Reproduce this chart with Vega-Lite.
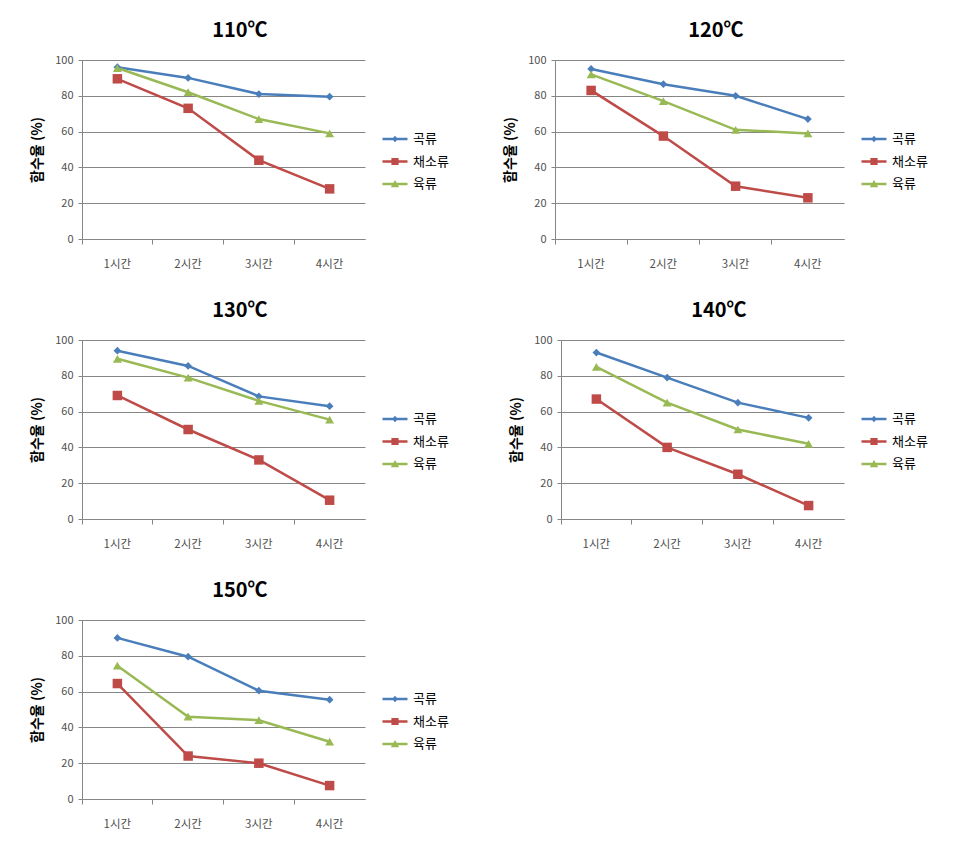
{
  "$schema": "https://vega.github.io/schema/vega-lite/v6.json",
  "padding": {"left": 30, "top": 21, "right": 5, "bottom": 5},
  "background": "white",
  "data": {"values": [
    {"temp": "110℃", "time": "1시간", "series": "곡류", "value": 96},
    {"temp": "110℃", "time": "2시간", "series": "곡류", "value": 90},
    {"temp": "110℃", "time": "3시간", "series": "곡류", "value": 81},
    {"temp": "110℃", "time": "4시간", "series": "곡류", "value": 79.5},
    {"temp": "110℃", "time": "1시간", "series": "채소류", "value": 89.5},
    {"temp": "110℃", "time": "2시간", "series": "채소류", "value": 73},
    {"temp": "110℃", "time": "3시간", "series": "채소류", "value": 44},
    {"temp": "110℃", "time": "4시간", "series": "채소류", "value": 28},
    {"temp": "110℃", "time": "1시간", "series": "육류", "value": 95.5},
    {"temp": "110℃", "time": "2시간", "series": "육류", "value": 82},
    {"temp": "110℃", "time": "3시간", "series": "육류", "value": 67},
    {"temp": "110℃", "time": "4시간", "series": "육류", "value": 59},
    {"temp": "120℃", "time": "1시간", "series": "곡류", "value": 95},
    {"temp": "120℃", "time": "2시간", "series": "곡류", "value": 86.5},
    {"temp": "120℃", "time": "3시간", "series": "곡류", "value": 80},
    {"temp": "120℃", "time": "4시간", "series": "곡류", "value": 67},
    {"temp": "120℃", "time": "1시간", "series": "채소류", "value": 83},
    {"temp": "120℃", "time": "2시간", "series": "채소류", "value": 57.5},
    {"temp": "120℃", "time": "3시간", "series": "채소류", "value": 29.5},
    {"temp": "120℃", "time": "4시간", "series": "채소류", "value": 23},
    {"temp": "120℃", "time": "1시간", "series": "육류", "value": 92},
    {"temp": "120℃", "time": "2시간", "series": "육류", "value": 77},
    {"temp": "120℃", "time": "3시간", "series": "육류", "value": 61},
    {"temp": "120℃", "time": "4시간", "series": "육류", "value": 59},
    {"temp": "130℃", "time": "1시간", "series": "곡류", "value": 94},
    {"temp": "130℃", "time": "2시간", "series": "곡류", "value": 85.5},
    {"temp": "130℃", "time": "3시간", "series": "곡류", "value": 68.5},
    {"temp": "130℃", "time": "4시간", "series": "곡류", "value": 63},
    {"temp": "130℃", "time": "1시간", "series": "채소류", "value": 69},
    {"temp": "130℃", "time": "2시간", "series": "채소류", "value": 50},
    {"temp": "130℃", "time": "3시간", "series": "채소류", "value": 33},
    {"temp": "130℃", "time": "4시간", "series": "채소류", "value": 10.5},
    {"temp": "130℃", "time": "1시간", "series": "육류", "value": 89.5},
    {"temp": "130℃", "time": "2시간", "series": "육류", "value": 79},
    {"temp": "130℃", "time": "3시간", "series": "육류", "value": 66},
    {"temp": "130℃", "time": "4시간", "series": "육류", "value": 55.5},
    {"temp": "140℃", "time": "1시간", "series": "곡류", "value": 93},
    {"temp": "140℃", "time": "2시간", "series": "곡류", "value": 79},
    {"temp": "140℃", "time": "3시간", "series": "곡류", "value": 65},
    {"temp": "140℃", "time": "4시간", "series": "곡류", "value": 56.5},
    {"temp": "140℃", "time": "1시간", "series": "채소류", "value": 67},
    {"temp": "140℃", "time": "2시간", "series": "채소류", "value": 40},
    {"temp": "140℃", "time": "3시간", "series": "채소류", "value": 25},
    {"temp": "140℃", "time": "4시간", "series": "채소류", "value": 7.5},
    {"temp": "140℃", "time": "1시간", "series": "육류", "value": 85},
    {"temp": "140℃", "time": "2시간", "series": "육류", "value": 65},
    {"temp": "140℃", "time": "3시간", "series": "육류", "value": 50},
    {"temp": "140℃", "time": "4시간", "series": "육류", "value": 42},
    {"temp": "150℃", "time": "1시간", "series": "곡류", "value": 90},
    {"temp": "150℃", "time": "2시간", "series": "곡류", "value": 79.5},
    {"temp": "150℃", "time": "3시간", "series": "곡류", "value": 60.5},
    {"temp": "150℃", "time": "4시간", "series": "곡류", "value": 55.5},
    {"temp": "150℃", "time": "1시간", "series": "채소류", "value": 64.5},
    {"temp": "150℃", "time": "2시간", "series": "채소류", "value": 24},
    {"temp": "150℃", "time": "3시간", "series": "채소류", "value": 20},
    {"temp": "150℃", "time": "4시간", "series": "채소류", "value": 7.5},
    {"temp": "150℃", "time": "1시간", "series": "육류", "value": 74.5},
    {"temp": "150℃", "time": "2시간", "series": "육류", "value": 46},
    {"temp": "150℃", "time": "3시간", "series": "육류", "value": 44},
    {"temp": "150℃", "time": "4시간", "series": "육류", "value": 32}
  ]},
  "spacing": 31,
  "resolve": {"scale": {"color": "independent"}, "legend": {"color": "independent"}},
  "vconcat": [
    {
      "spacing": 54,
      "resolve": {"scale": {"color": "independent"}, "legend": {"color": "independent"}},
      "hconcat": [
        {
          "title": {"text": "110℃"},
          "width": 283, "height": 179,
          "transform": [{"filter": "datum.temp === '110℃'"}],
          "encoding": {
            "y": {"field": "value", "type": "quantitative", "scale": {"domain": [0, 100]}, "axis": {"values": [0, 20, 40, 60, 80, 100], "title": "함수율 (%)"}},
            "color": {"field": "series", "type": "nominal", "scale": {"domain": ["곡류", "채소류", "육류"], "range": ["#4a7ebb", "#be4b48", "#98b954"]},
              "legend": {"title": null, "orient": "none", "legendX": 303, "legendY": 69, "symbolSize": 400, "symbolStrokeWidth": 0, "labelOffset": 8, "rowPadding": 5.5, "padding": 0,
                "encode": {"symbols": {"update": {
                  "shape": {"signal": "datum.value === '곡류' ? 'M-1.25,-0.12H1.25V0.12H-1.25Z M0,-0.32L0.3,0L0,0.32L-0.3,0Z' : datum.value === '채소류' ? 'M-1.25,-0.12H1.25V0.12H-1.25Z M-0.36,-0.36H0.36V0.36H-0.36Z' : 'M-1.25,-0.12H1.25V0.12H-1.25Z M0,-0.4L0.42,0.32H-0.42Z'"},
                  "size": {"value": 400}}}}}}
          },
          "layer": [
            {"mark": {"type": "line", "strokeWidth": 2.5},
             "encoding": {"x": {"field": "time", "type": "nominal", "sort": null, "scale": {"type": "band", "paddingInner": 0, "paddingOuter": 0}, "axis": {"title": null, "ticks": false, "labelAngle": 0, "orient": "bottom"}}}},
            {"mark": {"type": "point", "filled": true, "opacity": 1},
             "encoding": {"x": {"field": "time", "type": "nominal", "sort": null, "scale": {"type": "band", "paddingInner": 0, "paddingOuter": 0}, "axis": {"title": null, "labels": false, "domain": false, "ticks": true, "bandPosition": 0, "tickSize": 5, "orient": "bottom"}},
               "shape": {"condition": [{"test": "datum.series === '채소류'", "value": "square"}, {"test": "datum.series === '육류'", "value": "triangle-up"}], "value": "diamond"},
               "size": {"condition": [{"test": "datum.series === '채소류'", "value": 90}, {"test": "datum.series === '육류'", "value": 80}], "value": 60}}}
          ],
          "resolve": {"axis": {"x": "independent"}}
        },
        {
          "title": {"text": "120℃"},
          "width": 289, "height": 179,
          "transform": [{"filter": "datum.temp === '120℃'"}],
          "encoding": {
            "y": {"field": "value", "type": "quantitative", "scale": {"domain": [0, 100]}, "axis": {"values": [0, 20, 40, 60, 80, 100], "title": "함수율 (%)"}},
            "color": {"field": "series", "type": "nominal", "scale": {"domain": ["곡류", "채소류", "육류"], "range": ["#4a7ebb", "#be4b48", "#98b954"]},
              "legend": {"title": null, "orient": "none", "legendX": 309, "legendY": 69, "symbolSize": 400, "symbolStrokeWidth": 0, "labelOffset": 8, "rowPadding": 5.5, "padding": 0,
                "encode": {"symbols": {"update": {
                  "shape": {"signal": "datum.value === '곡류' ? 'M-1.25,-0.12H1.25V0.12H-1.25Z M0,-0.32L0.3,0L0,0.32L-0.3,0Z' : datum.value === '채소류' ? 'M-1.25,-0.12H1.25V0.12H-1.25Z M-0.36,-0.36H0.36V0.36H-0.36Z' : 'M-1.25,-0.12H1.25V0.12H-1.25Z M0,-0.4L0.42,0.32H-0.42Z'"},
                  "size": {"value": 400}}}}}}
          },
          "layer": [
            {"mark": {"type": "line", "strokeWidth": 2.5},
             "encoding": {"x": {"field": "time", "type": "nominal", "sort": null, "scale": {"type": "band", "paddingInner": 0, "paddingOuter": 0}, "axis": {"title": null, "ticks": false, "labelAngle": 0, "orient": "bottom"}}}},
            {"mark": {"type": "point", "filled": true, "opacity": 1},
             "encoding": {"x": {"field": "time", "type": "nominal", "sort": null, "scale": {"type": "band", "paddingInner": 0, "paddingOuter": 0}, "axis": {"title": null, "labels": false, "domain": false, "ticks": true, "bandPosition": 0, "tickSize": 5, "orient": "bottom"}},
               "shape": {"condition": [{"test": "datum.series === '채소류'", "value": "square"}, {"test": "datum.series === '육류'", "value": "triangle-up"}], "value": "diamond"},
               "size": {"condition": [{"test": "datum.series === '채소류'", "value": 90}, {"test": "datum.series === '육류'", "value": 80}], "value": 60}}}
          ],
          "resolve": {"axis": {"x": "independent"}}
        }
      ]
    },
    {
      "spacing": 60,
      "resolve": {"scale": {"color": "independent"}, "legend": {"color": "independent"}},
      "hconcat": [
        {
          "title": {"text": "130℃"},
          "width": 283, "height": 179,
          "transform": [{"filter": "datum.temp === '130℃'"}],
          "encoding": {
            "y": {"field": "value", "type": "quantitative", "scale": {"domain": [0, 100]}, "axis": {"values": [0, 20, 40, 60, 80, 100], "title": "함수율 (%)"}},
            "color": {"field": "series", "type": "nominal", "scale": {"domain": ["곡류", "채소류", "육류"], "range": ["#4a7ebb", "#be4b48", "#98b954"]},
              "legend": {"title": null, "orient": "none", "legendX": 303, "legendY": 69, "symbolSize": 400, "symbolStrokeWidth": 0, "labelOffset": 8, "rowPadding": 5.5, "padding": 0,
                "encode": {"symbols": {"update": {
                  "shape": {"signal": "datum.value === '곡류' ? 'M-1.25,-0.12H1.25V0.12H-1.25Z M0,-0.32L0.3,0L0,0.32L-0.3,0Z' : datum.value === '채소류' ? 'M-1.25,-0.12H1.25V0.12H-1.25Z M-0.36,-0.36H0.36V0.36H-0.36Z' : 'M-1.25,-0.12H1.25V0.12H-1.25Z M0,-0.4L0.42,0.32H-0.42Z'"},
                  "size": {"value": 400}}}}}}
          },
          "layer": [
            {"mark": {"type": "line", "strokeWidth": 2.5},
             "encoding": {"x": {"field": "time", "type": "nominal", "sort": null, "scale": {"type": "band", "paddingInner": 0, "paddingOuter": 0}, "axis": {"title": null, "ticks": false, "labelAngle": 0, "orient": "bottom"}}}},
            {"mark": {"type": "point", "filled": true, "opacity": 1},
             "encoding": {"x": {"field": "time", "type": "nominal", "sort": null, "scale": {"type": "band", "paddingInner": 0, "paddingOuter": 0}, "axis": {"title": null, "labels": false, "domain": false, "ticks": true, "bandPosition": 0, "tickSize": 5, "orient": "bottom"}},
               "shape": {"condition": [{"test": "datum.series === '채소류'", "value": "square"}, {"test": "datum.series === '육류'", "value": "triangle-up"}], "value": "diamond"},
               "size": {"condition": [{"test": "datum.series === '채소류'", "value": 90}, {"test": "datum.series === '육류'", "value": 80}], "value": 60}}}
          ],
          "resolve": {"axis": {"x": "independent"}}
        },
        {
          "title": {"text": "140℃"},
          "width": 283, "height": 179,
          "transform": [{"filter": "datum.temp === '140℃'"}],
          "encoding": {
            "y": {"field": "value", "type": "quantitative", "scale": {"domain": [0, 100]}, "axis": {"values": [0, 20, 40, 60, 80, 100], "title": "함수율 (%)"}},
            "color": {"field": "series", "type": "nominal", "scale": {"domain": ["곡류", "채소류", "육류"], "range": ["#4a7ebb", "#be4b48", "#98b954"]},
              "legend": {"title": null, "orient": "none", "legendX": 303, "legendY": 69, "symbolSize": 400, "symbolStrokeWidth": 0, "labelOffset": 8, "rowPadding": 5.5, "padding": 0,
                "encode": {"symbols": {"update": {
                  "shape": {"signal": "datum.value === '곡류' ? 'M-1.25,-0.12H1.25V0.12H-1.25Z M0,-0.32L0.3,0L0,0.32L-0.3,0Z' : datum.value === '채소류' ? 'M-1.25,-0.12H1.25V0.12H-1.25Z M-0.36,-0.36H0.36V0.36H-0.36Z' : 'M-1.25,-0.12H1.25V0.12H-1.25Z M0,-0.4L0.42,0.32H-0.42Z'"},
                  "size": {"value": 400}}}}}}
          },
          "layer": [
            {"mark": {"type": "line", "strokeWidth": 2.5},
             "encoding": {"x": {"field": "time", "type": "nominal", "sort": null, "scale": {"type": "band", "paddingInner": 0, "paddingOuter": 0}, "axis": {"title": null, "ticks": false, "labelAngle": 0, "orient": "bottom"}}}},
            {"mark": {"type": "point", "filled": true, "opacity": 1},
             "encoding": {"x": {"field": "time", "type": "nominal", "sort": null, "scale": {"type": "band", "paddingInner": 0, "paddingOuter": 0}, "axis": {"title": null, "labels": false, "domain": false, "ticks": true, "bandPosition": 0, "tickSize": 5, "orient": "bottom"}},
               "shape": {"condition": [{"test": "datum.series === '채소류'", "value": "square"}, {"test": "datum.series === '육류'", "value": "triangle-up"}], "value": "diamond"},
               "size": {"condition": [{"test": "datum.series === '채소류'", "value": 90}, {"test": "datum.series === '육류'", "value": 80}], "value": 60}}}
          ],
          "resolve": {"axis": {"x": "independent"}}
        }
      ]
    },
    {
      "title": {"text": "150℃"},
      "width": 283, "height": 179,
      "transform": [{"filter": "datum.temp === '150℃'"}],
      "encoding": {
        "y": {"field": "value", "type": "quantitative", "scale": {"domain": [0, 100]}, "axis": {"values": [0, 20, 40, 60, 80, 100], "title": "함수율 (%)"}},
        "color": {"field": "series", "type": "nominal", "scale": {"domain": ["곡류", "채소류", "육류"], "range": ["#4a7ebb", "#be4b48", "#98b954"]},
          "legend": {"title": null, "orient": "none", "legendX": 303, "legendY": 69, "symbolSize": 400, "symbolStrokeWidth": 0, "labelOffset": 8, "rowPadding": 5.5, "padding": 0,
            "encode": {"symbols": {"update": {
              "shape": {"signal": "datum.value === '곡류' ? 'M-1.25,-0.12H1.25V0.12H-1.25Z M0,-0.32L0.3,0L0,0.32L-0.3,0Z' : datum.value === '채소류' ? 'M-1.25,-0.12H1.25V0.12H-1.25Z M-0.36,-0.36H0.36V0.36H-0.36Z' : 'M-1.25,-0.12H1.25V0.12H-1.25Z M0,-0.4L0.42,0.32H-0.42Z'"},
              "size": {"value": 400}}}}}}
      },
      "layer": [
        {"mark": {"type": "line", "strokeWidth": 2.5},
         "encoding": {"x": {"field": "time", "type": "nominal", "sort": null, "scale": {"type": "band", "paddingInner": 0, "paddingOuter": 0}, "axis": {"title": null, "ticks": false, "labelAngle": 0, "orient": "bottom"}}}},
        {"mark": {"type": "point", "filled": true, "opacity": 1},
         "encoding": {"x": {"field": "time", "type": "nominal", "sort": null, "scale": {"type": "band", "paddingInner": 0, "paddingOuter": 0}, "axis": {"title": null, "labels": false, "domain": false, "ticks": true, "bandPosition": 0, "tickSize": 5, "orient": "bottom"}},
           "shape": {"condition": [{"test": "datum.series === '채소류'", "value": "square"}, {"test": "datum.series === '육류'", "value": "triangle-up"}], "value": "diamond"},
           "size": {"condition": [{"test": "datum.series === '채소류'", "value": 90}, {"test": "datum.series === '육류'", "value": 80}], "value": 60}}}
      ],
      "resolve": {"axis": {"x": "independent"}}
    }
  ],
  "config": {
    "font": "Noto Sans CJK KR",
    "view": {"stroke": null},
    "title": {"fontSize": 20, "fontWeight": "bold", "color": "#000000", "anchor": "middle", "frame": "bounds", "offset": 13, "font": "Noto Sans CJK KR"},
    "axis": {
      "labelFont": "Noto Sans CJK KR", "labelFontSize": 11, "labelColor": "#505050",
      "titleFont": "Noto Sans CJK KR", "titleFontSize": 14, "titleFontWeight": "bold", "titleColor": "#000000",
      "domainColor": "#868686", "tickColor": "#868686", "gridColor": "#868686", "gridWidth": 1
    },
    "axisY": {"grid": true, "tickSize": 4, "labelPadding": 5, "titlePadding": 10},
    "axisX": {"grid": false, "labelPadding": 19, "labelFontSize": 11.5},
    "legend": {"labelFont": "Noto Sans CJK KR", "labelFontSize": 13, "labelColor": "#000000"}
  }
}
